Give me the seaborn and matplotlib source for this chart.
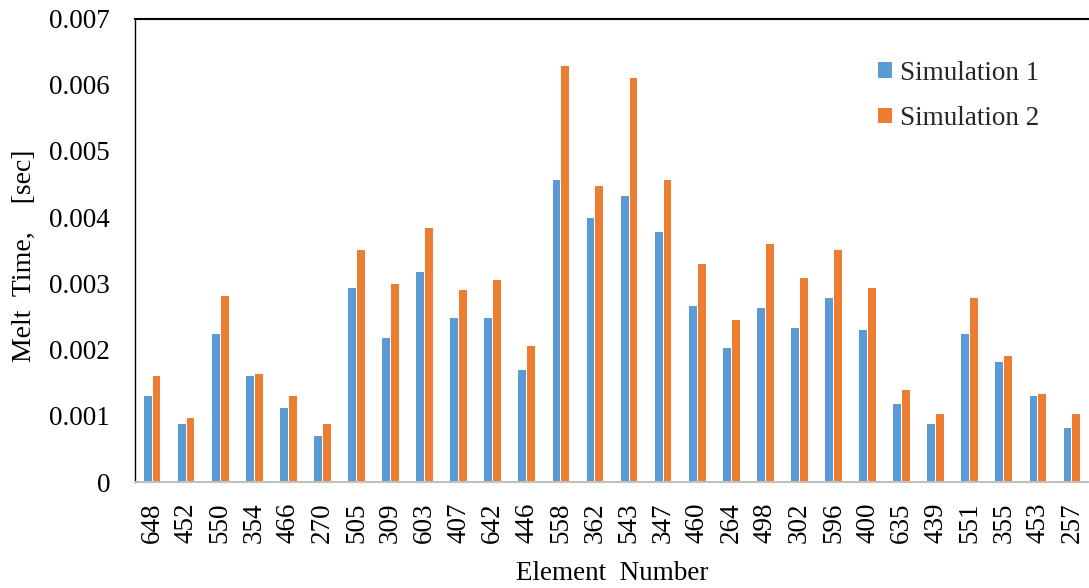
import matplotlib
matplotlib.use("Agg")
import matplotlib.pyplot as plt
import pandas as pd
import seaborn as sns

# Element numbers along the x axis (in plotted order)
elements = ["648", "452", "550", "354", "466", "270", "505", "309", "603", "407",
            "642", "446", "558", "362", "543", "347", "460", "264", "498", "302",
            "596", "400", "635", "439", "551", "355", "453", "257"]

# Melt time in seconds for each element
sim1 = [0.00130, 0.00088, 0.00224, 0.00160, 0.00112, 0.00070, 0.00293, 0.00218,
        0.00317, 0.00248, 0.00248, 0.00169, 0.00456, 0.00399, 0.00432, 0.00378,
        0.00266, 0.00202, 0.00263, 0.00233, 0.00278, 0.00230, 0.00118, 0.00088,
        0.00224, 0.00181, 0.00130, 0.00082]
sim2 = [0.00160, 0.00097, 0.00281, 0.00163, 0.00130, 0.00088, 0.00350, 0.00299,
        0.00384, 0.00290, 0.00305, 0.00205, 0.00628, 0.00447, 0.00610, 0.00456,
        0.00329, 0.00245, 0.00360, 0.00308, 0.00350, 0.00293, 0.00139, 0.00103,
        0.00278, 0.00190, 0.00133, 0.00103]

series_names = ["Simulation 1", "Simulation 2"]
colors = ["#5B9BD5", "#ED7D31"]

df = pd.DataFrame({
    "Element": elements * 2,
    "Melt": sim1 + sim2,
    "Series": [series_names[0]] * len(elements) + [series_names[1]] * len(elements),
})

sns.set_theme(style="white")
plt.rcParams["font.family"] = ["Liberation Serif", "DejaVu Serif"]

fig = plt.figure(figsize=(10.89, 5.88), dpi=100)
ax = fig.add_axes([135 / 1089, 1 - 482 / 588, 954 / 1089, (482 - 18.5) / 588])

sns.barplot(data=df, x="Element", y="Melt", hue="Series", order=elements,
            hue_order=series_names, palette=colors, width=0.52, gap=0.12,
            linewidth=0, saturation=1, ax=ax)

fs = 19.5
ax.set_ylim(0, 0.007)
ax.set_xlim(-0.5, len(elements) - 0.5)
ax.set_yticks([0, 0.001, 0.002, 0.003, 0.004, 0.005, 0.006, 0.007])
ax.set_yticklabels(["0", "0.001", "0.002", "0.003", "0.004", "0.005", "0.006", "0.007"])
ax.tick_params(axis="y", length=0, pad=18, labelsize=fs, colors="black")
ax.tick_params(axis="x", length=0, pad=15, labelsize=fs, colors="black", labelrotation=90)

ax.set_ylabel("Melt  Time,    [sec]", fontsize=20, color="black")
ax.set_xlabel("Element  Number", fontsize=fs, color="black")
ax.yaxis.set_label_coords(-0.103, 0.488)
ax.xaxis.set_label_coords(0.5, -0.170)

for side in ["left", "top"]:
    ax.spines[side].set_visible(True)
    ax.spines[side].set_color("black")
ax.spines["left"].set_linewidth(1.0)
ax.spines["top"].set_linewidth(1.5)
ax.spines["right"].set_visible(False)
ax.spines["bottom"].set_color("#C0C0C0")
ax.spines["bottom"].set_linewidth(1.5)
ax.grid(False)

ax.legend(loc="center left", bbox_to_anchor=(0.779, 0.833), frameon=False,
          fontsize=fs, handlelength=0.5, handleheight=0.5, handletextpad=0.3,
          labelspacing=0.75, borderpad=0, borderaxespad=0)

fig.savefig("out.png", dpi=100, facecolor="white")
